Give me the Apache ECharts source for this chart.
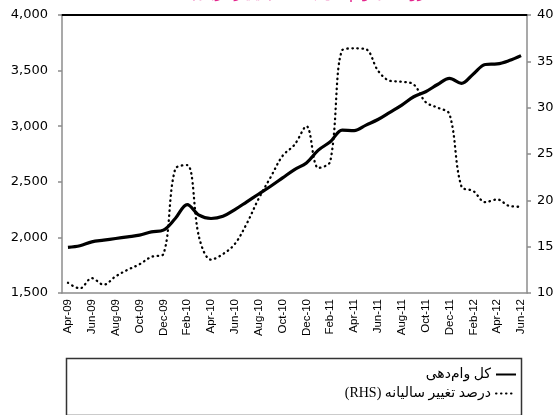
<!DOCTYPE html>
<html>
<head>
<meta charset="utf-8">
<script src="https://cdn.jsdelivr.net/npm/echarts@6/dist/echarts.min.js"></script>
<style>
  html, body { margin: 0; padding: 0; background: #fff; }
  #chart { width: 558px; height: 415px; }
</style>
</head>
<body>
<div id="chart"></div>
<script>
// months, Apr-09 .. Jun-12
const months = [
  "Apr-09", "May-09", "Jun-09", "Jul-09", "Aug-09", "Sep-09", "Oct-09", "Nov-09", "Dec-09",
  "Jan-10", "Feb-10", "Mar-10", "Apr-10", "May-10", "Jun-10", "Jul-10", "Aug-10", "Sep-10",
  "Oct-10", "Nov-10", "Dec-10", "Jan-11", "Feb-11", "Mar-11", "Apr-11", "May-11", "Jun-11",
  "Jul-11", "Aug-11", "Sep-11", "Oct-11", "Nov-11", "Dec-11", "Jan-12", "Feb-12", "Mar-12",
  "Apr-12", "May-12", "Jun-12"
];

// total lending (LHS)
const totalLending = [
  1910, 1925, 1960, 1975, 1990, 2005, 2020, 2050, 2065,
  2170, 2295, 2200, 2170, 2190, 2250, 2320, 2390, 2460,
  2535, 2610, 2670, 2785, 2860, 2965, 2960, 3010, 3060,
  3125, 3190, 3265, 3310, 3375, 3430, 3385, 3470, 3555,
  3560, 3590, 3635
];

// yearly change, percent (RHS)
const yearlyChange = [
  11.1, 10.5, 11.6, 10.9, 11.8, 12.5, 13.1, 13.9, 14.2,
  23.4, 23.8, 16.0, 13.6, 14.2, 15.3, 17.5, 20.2, 22.5,
  24.8, 26.0, 28.0, 23.5, 24.2, 36.2, 36.4, 36.3, 34.0,
  32.9, 32.8, 32.5, 30.6, 30.0, 29.3, 21.5, 21.0, 19.8,
  20.1, 19.4, 19.3
];

const nameTotal = "کل وام‌دهی";
const nameChange = "\u202Bدرصد تغییر سالیانه (RHS)\u202C";
const titleText = "\u202Bروند کل وام‌دهی بانک‌ها (میلیارد ریال)\u202C";

const axisGray = "#8c8c8c";
const chart = echarts.init(document.getElementById("chart"));

chart.setOption({
  animation: false,
  backgroundColor: "#fff",
  title: {
    text: titleText,
    left: 190,
    top: -13,
    padding: 0,
    textStyle: { color: "#e3258d", fontSize: 15, fontWeight: "normal", fontFamily: "DejaVu Sans" }
  },
  legend: {
    data: [nameTotal, nameChange],
    orient: "vertical",
    right: 41,
    top: 367,
    padding: 0,
    align: "right",
    itemWidth: 20,
    itemHeight: 10,
    itemGap: 4,
    itemStyle: { opacity: 0 },
    textStyle: {
      fontFamily: "'Liberation Serif', 'DejaVu Sans'",
      fontSize: 14,
      lineHeight: 15,
      color: "#000"
    }
  },
  grid: { left: 62, right: 31, top: 15, bottom: 122 },
  xAxis: [
    {
      type: "category",
      data: months,
      boundaryGap: true,
      axisLine: { lineStyle: { color: axisGray, width: 1.5 } },
      axisTick: { interval: 1, length: 4, lineStyle: { color: axisGray, width: 1.5 } },
      axisLabel: {
        interval: 1,
        rotate: 90,
        margin: 6,
        color: "#000",
        fontFamily: "'Liberation Sans Narrow', 'Liberation Sans'",
        fontSize: 11.5
      },
      splitLine: { show: false }
    },
    {
      type: "category",
      data: months,
      position: "top",
      axisLine: { lineStyle: { color: "#000", width: 2 } },
      axisTick: { show: false },
      axisLabel: { show: false }
    }
  ],
  yAxis: [
    {
      type: "value",
      min: 1500,
      max: 4000,
      interval: 500,
      axisLine: { show: true, lineStyle: { color: axisGray, width: 1.5 } },
      axisTick: { show: true, length: 4, lineStyle: { color: axisGray, width: 1.5 } },
      axisLabel: {
        margin: 14,
        color: "#000",
        fontFamily: "DejaVu Sans",
        fontSize: 13,
        formatter: v => v.toLocaleString("en-US")
      },
      splitLine: { show: false }
    },
    {
      type: "value",
      min: 10,
      max: 40,
      interval: 5,
      position: "right",
      axisLine: { show: true, lineStyle: { color: axisGray, width: 1.5 } },
      axisTick: { show: true, length: 4, lineStyle: { color: axisGray, width: 1.5 } },
      axisLabel: { margin: 10, color: "#000", fontFamily: "DejaVu Sans", fontSize: 13 },
      splitLine: { show: false }
    }
  ],
  series: [
    {
      name: nameTotal,
      type: "line",
      data: totalLending,
      yAxisIndex: 0,
      smooth: 0.35,
      symbol: "none",
      lineStyle: { color: "#000", width: 3.2 },
      itemStyle: { color: "#000" },
      z: 3
    },
    {
      name: nameChange,
      type: "line",
      data: yearlyChange,
      yAxisIndex: 1,
      smooth: 0.35,
      symbol: "none",
      lineStyle: { color: "#000", width: 2.3, type: [0.5, 4.5], cap: "round" },
      itemStyle: { color: "#000" },
      z: 2
    }
  ],
  graphic: [
    {
      type: "rect",
      left: 64,
      top: 356,
      shape: { width: 455, height: 57 },
      style: { fill: "none", stroke: "#333", lineWidth: 1.5 },
      z: -1
    }
  ]
});
</script>
</body>
</html>
